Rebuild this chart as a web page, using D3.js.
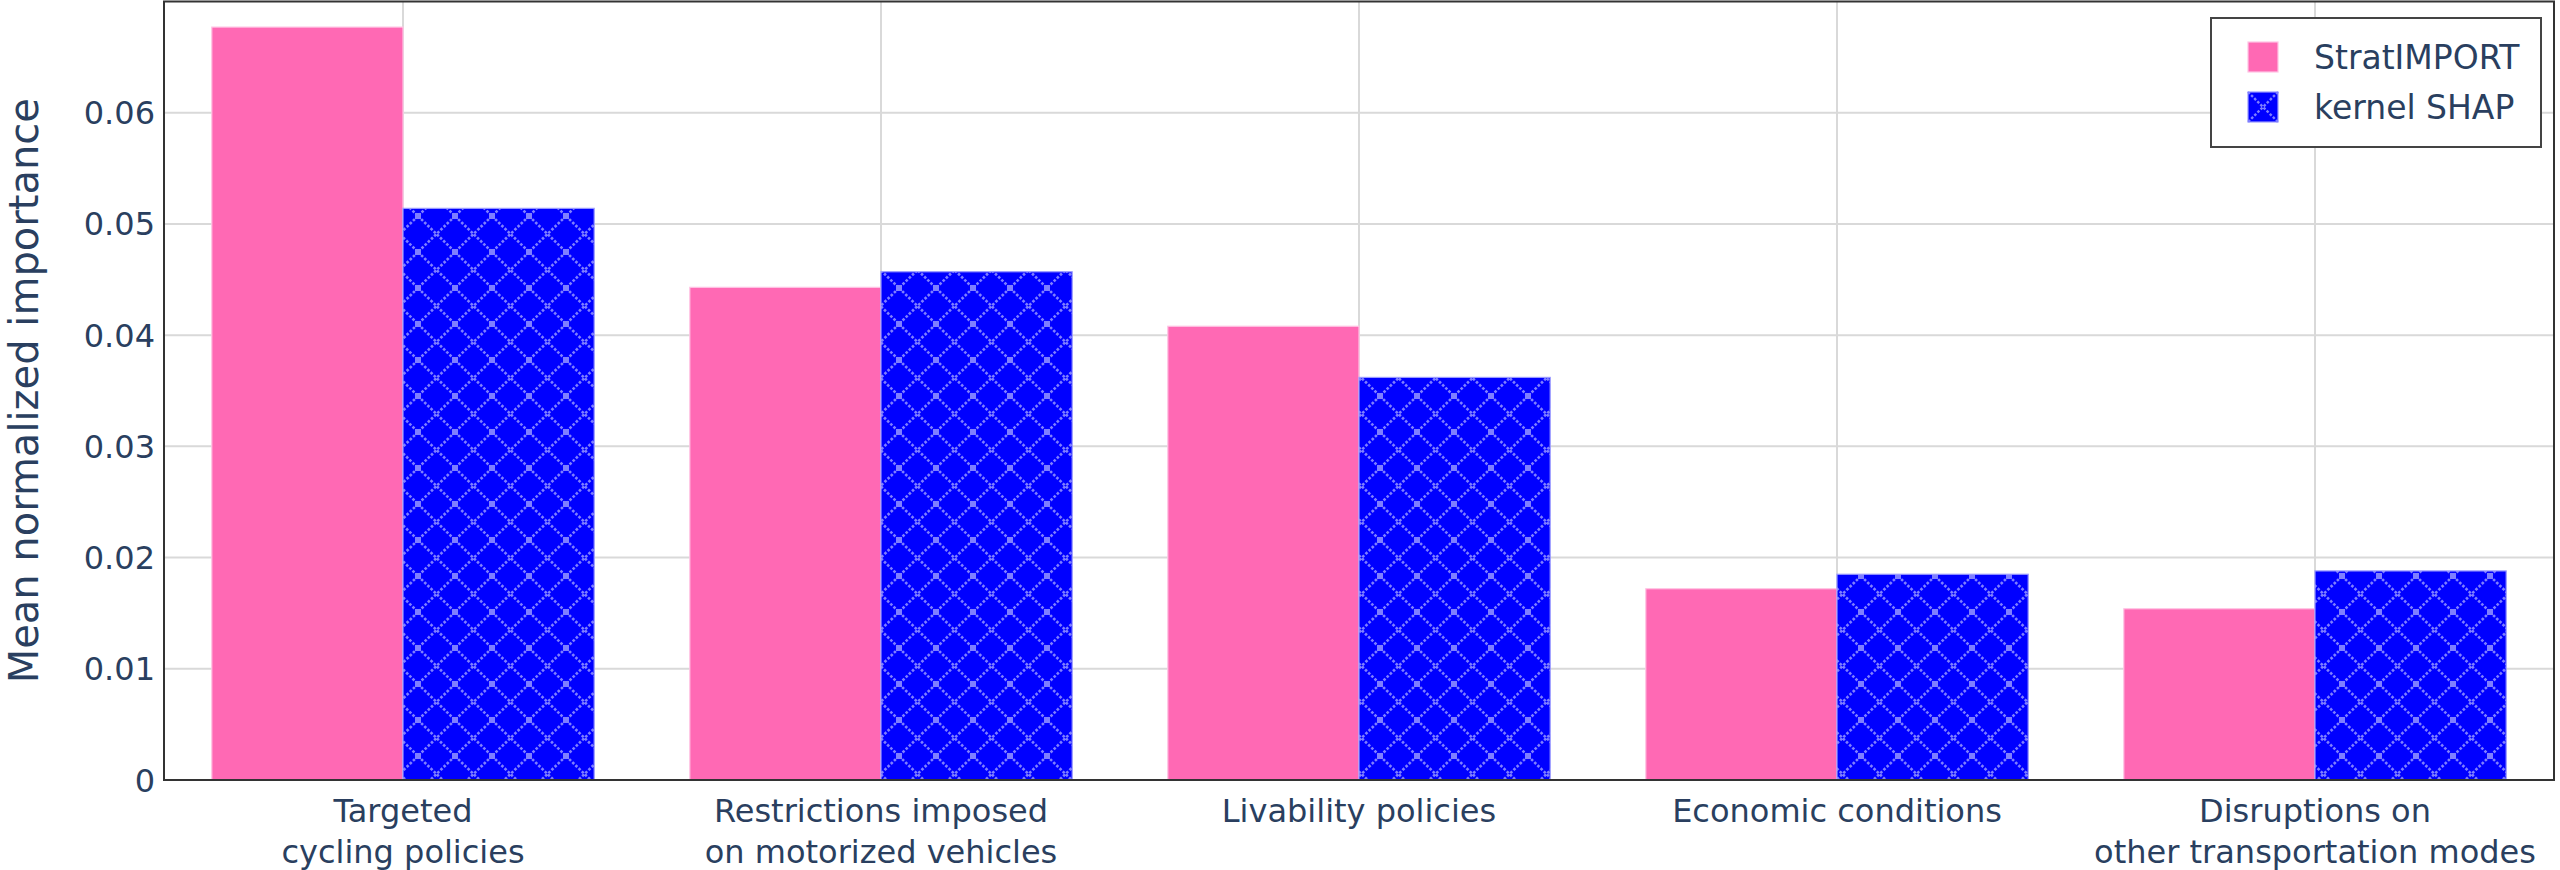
<!DOCTYPE html>
<html>
<head>
<meta charset="utf-8">
<script src="https://cdn.jsdelivr.net/npm/d3@7"></script>
<style>
    body { margin: 0; background: #fff; }
    svg { display: block; }
</style>
</head>
<body>
<svg id="chart"></svg>
<script>
// bar categories (labels split on "|")
const CATEGORIES = [
    "Targeted|cycling policies",
    "Restrictions imposed|on motorized vehicles",
    "Livability policies",
    "Economic conditions",
    "Disruptions on|other transportation modes"
];
const SERIES = ["StratIMPORT", "kernel SHAP"];
const STRAT_IMPORT = [0.0677, 0.0443, 0.0408, 0.0172, 0.0154];
const KERNEL_SHAP = [0.0514, 0.0457, 0.0362, 0.0185, 0.0188];
const Y_TICKS = [0, 0.01, 0.02, 0.03, 0.04, 0.05, 0.06];

const WIDTH = 2560;
const HEIGHT = 870;
const LEFT = 164, RIGHT = 2554, TOP = 1.5, BOTTOM = 780;
const FONT = "'DejaVu Sans', Verdana, sans-serif";
const TEXT = "#2a3f5f";
const PINK = "#ff69b4";
const BLUE = "#0000ff";
const HATCH = "#7f7fff";

window.onload = function(){
    let svg = d3.select("#chart")
        .attr("width", WIDTH)
        .attr("height", HEIGHT)
        .style("font-family", FONT);

    svg.append("rect").attr("width", WIDTH).attr("height", HEIGHT).attr("fill", "#fff");

    // cross-hatch pattern for the kernel SHAP bars
    let defs = svg.append("defs");
    let pat = defs.append("pattern")
        .attr("id", "xhatch")
        .attr("patternUnits", "userSpaceOnUse")
        .attr("x", 11).attr("y", 0)
        .attr("width", 37).attr("height", 36);
    pat.append("rect").attr("width", 37).attr("height", 36).attr("fill", BLUE);
    pat.append("path")
        .attr("d", "M0,0L37,36M37,0L0,36")
        .attr("stroke", HATCH)
        .attr("stroke-width", 2.6)
        .attr("stroke-dasharray", "2.6,1.8");
    // heavier dots where cells meet
    [[0, 0], [37, 0], [0, 36], [37, 36]].forEach(function(p){
        pat.append("rect")
            .attr("x", p[0] - 3).attr("y", p[1] - 3)
            .attr("width", 6).attr("height", 6)
            .attr("fill", HATCH);
    });

    let x = d3.scaleBand()
        .domain(CATEGORIES)
        .range([LEFT, RIGHT]);

    let xSub = d3.scaleBand()
        .domain(SERIES)
        .range([0, x.bandwidth()])
        .paddingOuter(0.25);

    let y = d3.scaleLinear()
        .domain([0, 0.07])
        .range([BOTTOM, TOP]);

    // grid
    svg.append("g").selectAll("line")
        .data(Y_TICKS.slice(1))
        .enter()
        .append("line")
        .attr("x1", LEFT).attr("x2", RIGHT)
        .attr("y1", function(d){ return y(d); })
        .attr("y2", function(d){ return y(d); })
        .attr("stroke", "#d9d9d9")
        .attr("stroke-width", 2);

    svg.append("g").selectAll("line")
        .data(CATEGORIES)
        .enter()
        .append("line")
        .attr("x1", function(d){ return x(d) + x.bandwidth()/2; })
        .attr("x2", function(d){ return x(d) + x.bandwidth()/2; })
        .attr("y1", TOP).attr("y2", BOTTOM)
        .attr("stroke", "#d9d9d9")
        .attr("stroke-width", 2);

    // bars
    let rows = CATEGORIES.map(function(c, i){
        return [
            { cat: c, s: SERIES[0], v: STRAT_IMPORT[i] },
            { cat: c, s: SERIES[1], v: KERNEL_SHAP[i] }
        ];
    }).flat();

    svg.append("g").selectAll("rect")
        .data(rows)
        .enter()
        .append("rect")
        .attr("x", function(d){ return x(d.cat) + xSub(d.s); })
        .attr("y", function(d){ return y(d.v); })
        .attr("width", xSub.bandwidth())
        .attr("height", function(d){ return BOTTOM - y(d.v); })
        .attr("fill", function(d){ return d.s === SERIES[0] ? PINK : "url(#xhatch)"; })
        .attr("stroke", function(d){ return d.s === SERIES[0] ? "#ffc4e4" : "#9a9aff"; })
        .attr("stroke-width", 1.2);

    // plot frame
    svg.append("rect")
        .attr("x", LEFT).attr("y", TOP)
        .attr("width", RIGHT - LEFT).attr("height", BOTTOM - TOP)
        .attr("fill", "none")
        .attr("stroke", "#333")
        .attr("stroke-width", 2);

    // y tick labels
    svg.append("g").selectAll("text")
        .data(Y_TICKS)
        .enter()
        .append("text")
        .text(function(d){ return d === 0 ? "0" : d3.format(".2f")(d); })
        .attr("x", 155)
        .attr("y", function(d){ return y(d); })
        .attr("dy", "0.36em")
        .attr("text-anchor", "end")
        .attr("font-size", "32px")
        .attr("fill", TEXT);

    // x tick labels
    let xl = svg.append("g").selectAll("text")
        .data(CATEGORIES)
        .enter()
        .append("text")
        .attr("x", function(d){ return x(d) + x.bandwidth()/2; })
        .attr("y", 822)
        .attr("text-anchor", "middle")
        .attr("font-size", "32px")
        .attr("fill", TEXT);

    xl.selectAll("tspan")
        .data(function(d){ return d.split("|"); })
        .enter()
        .append("tspan")
        .attr("x", function(){ let p = d3.select(this.parentNode); return p.attr("x"); })
        .attr("dy", function(d, i){ return i === 0 ? 0 : 41; })
        .text(function(d){ return d; });

    // y axis title
    svg.append("text")
        .text("Mean normalized importance")
        .attr("transform", "translate(38," + ((TOP + BOTTOM)/2) + ") rotate(-90)")
        .attr("text-anchor", "middle")
        .attr("font-size", "40px")
        .attr("fill", TEXT);

    // legend
    let lg = svg.append("g");
    lg.append("rect")
        .attr("x", 2211).attr("y", 18)
        .attr("width", 330).attr("height", 129)
        .attr("fill", "#fff")
        .attr("stroke", "#444")
        .attr("stroke-width", 2);

    SERIES.forEach(function(s, i){
        let yy = 42 + i * 50;
        lg.append("rect")
            .attr("x", 2248).attr("y", yy)
            .attr("width", 30).attr("height", 30)
            .attr("fill", i === 0 ? PINK : BLUE)
            .attr("stroke", i === 0 ? "#ffc4e4" : "#9a9aff")
            .attr("stroke-width", 1.2);
        if (i === 1) {
            lg.append("path")
                .attr("d", "M2248," + yy + "l30,30M2278," + yy + "l-30,30")
                .attr("stroke", HATCH)
                .attr("stroke-width", 2.4)
                .attr("stroke-dasharray", "2.6,1.8");
        }
        lg.append("text")
            .text(s)
            .attr("x", 2314)
            .attr("y", yy + 15)
            .attr("dy", "0.36em")
            .attr("font-size", "33px")
            .attr("fill", TEXT);
    });
};
</script>
</body>
</html>
